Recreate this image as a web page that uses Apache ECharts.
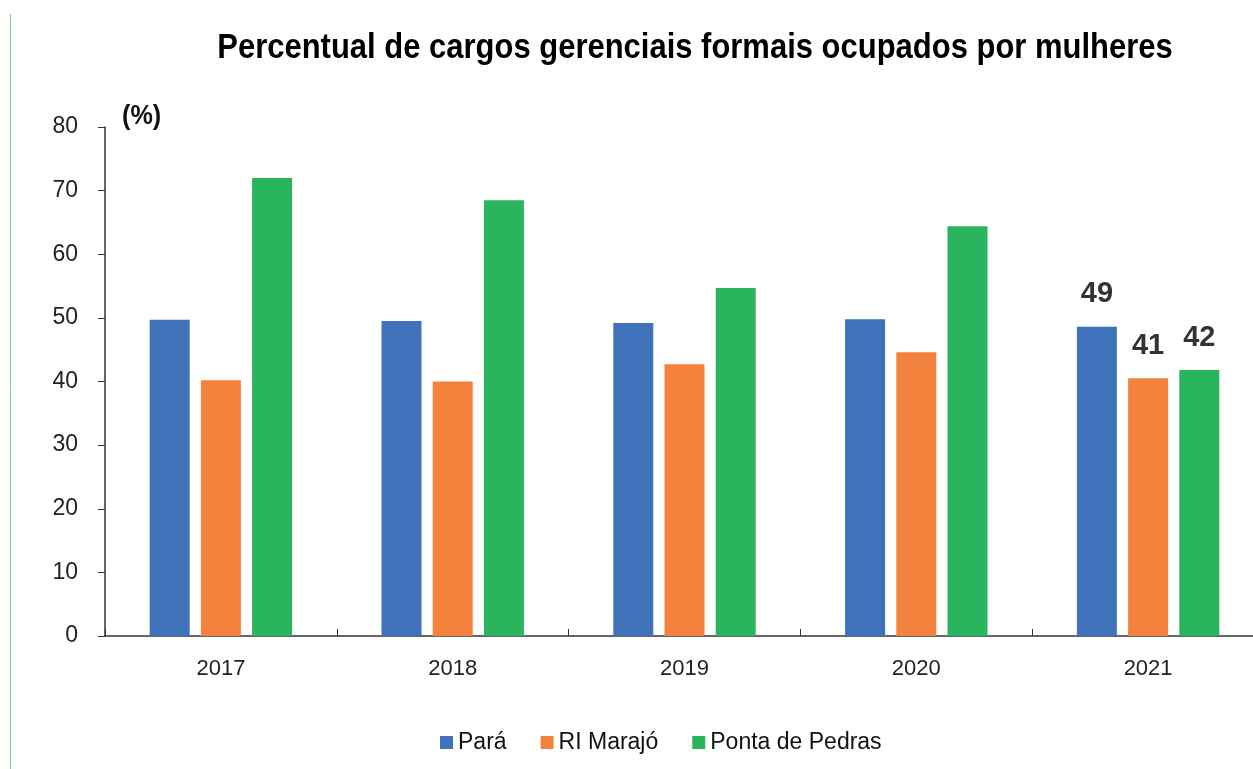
<!DOCTYPE html>
<html>
<head>
<meta charset="utf-8">
<script src="https://cdn.jsdelivr.net/npm/echarts@6/dist/echarts.min.js"></script>
<style>
    html, body { margin: 0; padding: 0; background: #fff; }
    #chart { width: 1253px; height: 769px; }
</style>
</head>
<body>
<div id="chart"></div>
<script>
const years = ["2017", "2018", "2019", "2020", "2021"];
const para = [49.7, 49.5, 49.2, 49.8, 48.6];
const riMarajo = [40.2, 40.0, 42.7, 44.6, 40.5];
const pontaDePedras = [72.0, 68.5, 54.7, 64.4, 41.8];
// only the last year carries a value label
const labelledIndex = 4;

const font = "'Liberation Sans', Arial, sans-serif";

function barSeries(name, data, color) {
    return {
        name: name,
        type: "bar",
        barWidth: 40,
        barGap: "28%",
        itemStyle: { color: color },
        data: data.map((v, i) => ({
            value: v,
            label: {
                show: i === labelledIndex,
                position: "top",
                distance: 18,
                formatter: (p) => Math.round(p.value),
                fontFamily: font,
                fontWeight: "bold",
                fontSize: 29,
                color: "#333",
            },
        })),
    };
}

const chart = echarts.init(document.getElementById("chart"));
chart.setOption({
    animation: false,
    graphic: [
        {
            type: "line",
            shape: { x1: 10.5, y1: 14, x2: 10.5, y2: 769 },
            style: { stroke: "#7ed07e", lineWidth: 1 },
        },
        {
            // condensed look of the original title
            type: "text",
            x: 695,
            y: 48,
            scaleX: 0.885,
            style: {
                text: "Percentual de cargos gerenciais formais ocupados por mulheres",
                fontFamily: font,
                fontWeight: "bold",
                fontSize: 35,
                fill: "#000",
                align: "center",
                verticalAlign: "middle",
            },
        },
        {
            type: "text",
            x: 122,
            y: 116,
            scaleX: 0.9,
            style: {
                text: "(%)",
                fontFamily: font,
                fontWeight: "bold",
                fontSize: 28,
                fill: "#111",
                verticalAlign: "middle",
            },
        },
    ],
    legend: {
        top: 726,
        left: 435,
        icon: "rect",
        itemWidth: 13,
        itemHeight: 13,
        itemGap: 34,
        textStyle: { fontFamily: font, fontSize: 23, color: "#111" },
        data: ["Pará", "RI Marajó", "Ponta de Pedras"],
    },
    grid: { left: 105, top: 127, width: 1159, height: 509, outerBoundsMode: "none" },
    xAxis: {
        type: "category",
        data: years,
        axisLine: { lineStyle: { color: "#333", width: 1.5 } },
        axisTick: { show: true, inside: true, length: 7, lineStyle: { color: "#333" } },
        axisLabel: { fontFamily: font, fontSize: 22, color: "#222", margin: 22 },
    },
    yAxis: {
        type: "value",
        min: 0,
        max: 80,
        interval: 10,
        splitLine: { show: false },
        axisLine: { show: true, lineStyle: { color: "#333", width: 1.5 } },
        axisTick: { show: true, length: 7, lineStyle: { color: "#333" } },
        axisLabel: { fontFamily: font, fontSize: 23, color: "#222", margin: 27 },
    },
    series: [
        barSeries("Pará", para, "#3f72b8"),
        barSeries("RI Marajó", riMarajo, "#f2823c"),
        barSeries("Ponta de Pedras", pontaDePedras, "#2bb45e"),
    ],
});
</script>
</body>
</html>
